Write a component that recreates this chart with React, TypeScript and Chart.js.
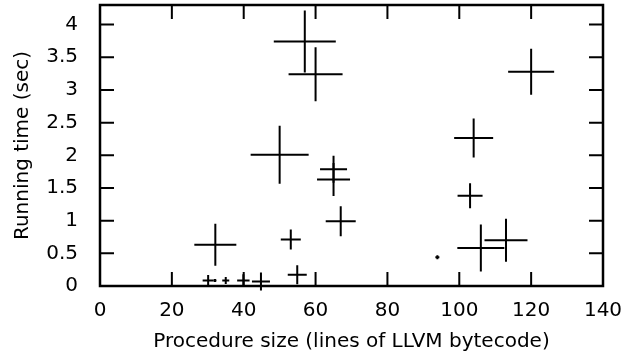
import React, { useEffect, useRef } from "react";
import { Chart, registerables } from "chart.js";

Chart.register(...registerables);

// Procedure size (lines of LLVM bytecode)
const procSize = [57, 60, 50, 120, 104, 65, 65, 67, 32.1, 53.1, 54.9, 30.1, 32, 35, 39.9, 44.8, 93.9, 103, 106, 113];
// Running time (sec)
const runTime = [3.74, 3.24, 2.01, 3.28, 2.265, 1.785, 1.63, 0.99, 0.63, 0.71, 0.172, 0.084, 0.084, 0.084, 0.084, 0.069, 0.44, 1.38, 0.58, 0.7];
// third variable, shown as marker size
const weight = [31, 27, 29, 23, 19.5, 13.5, 16.5, 15, 21, 10, 9.5, 5.5, 1.5, 3.5, 6.2, 9, 2, 12.5, 23.5, 21.5];

const xTicks = [0, 20, 40, 60, 80, 100, 120, 140];
const yTicks = [0, 0.5, 1, 1.5, 2, 2.5, 3, 3.5, 4];
const xTitle = "Procedure size (lines of LLVM bytecode)";
const yTitle = "Running time (sec)";

const FONT = "'DejaVu Sans', 'Liberation Sans', Arial, sans-serif";

const framePlugin = {
  id: "gnuframe",
  afterDraw(chart: any) {
    const { ctx, chartArea, scales } = chart;
    const { left, right, top, bottom } = chartArea;
    const x = scales.x;
    const y = scales.y;
    const TL = 14;
    ctx.save();
    ctx.strokeStyle = "#000";
    ctx.lineWidth = 2;
    ctx.beginPath();
    x.ticks.forEach((t: any) => {
      if (t.value <= x.min || t.value >= x.max) return;
      const px = x.getPixelForValue(t.value);
      ctx.moveTo(px, bottom);
      ctx.lineTo(px, bottom - TL);
      ctx.moveTo(px, top);
      ctx.lineTo(px, top + TL);
    });
    y.ticks.forEach((t: any) => {
      if (t.value <= y.min || t.value >= y.max) return;
      const py = y.getPixelForValue(t.value);
      ctx.moveTo(left, py);
      ctx.lineTo(left + TL, py);
      ctx.moveTo(right, py);
      ctx.lineTo(right - TL, py);
    });
    ctx.stroke();
    ctx.lineWidth = 2.5;
    ctx.strokeRect(left, top, right - left, bottom - top);
    ctx.restore();
  },
};

export default function App() {
  const ref = useRef<HTMLCanvasElement | null>(null);

  useEffect(() => {
    document.body.style.margin = "0";
    const canvas = ref.current;
    if (!canvas) return;
    const data = procSize.map((v, i) => ({ x: v, y: runTime[i], r: weight[i] }));
    const chart = new Chart(canvas, {
      type: "bubble",
      data: {
        datasets: [
          {
            data,
            pointStyle: "cross",
            borderColor: "#000",
            backgroundColor: "#000",
            borderWidth: 2,
            hoverBorderWidth: 2,
            hoverRadius: 0,
            clip: false,
          } as any,
        ],
      },
      options: {
        animation: false,
        responsive: false,
        events: [],
        layout: { autoPadding: false, padding: { left: 0, right: 32, top: 5, bottom: 0 } },
        plugins: {
          legend: { display: false },
          tooltip: { enabled: false },
        },
        scales: {
          x: {
            type: "linear",
            min: 0,
            max: 140,
            afterBuildTicks: (s: any) => {
              s.ticks = xTicks.map((v) => ({ value: v }));
            },
            afterFit: (s: any) => {
              s.height = 67;
              s.paddingLeft = 0;
              s.paddingRight = 0;
            },
            grid: { display: false },
            border: { display: false },
            ticks: {
              color: "#000",
              font: { family: FONT, size: 20 },
              padding: 5,
              maxRotation: 0,
              callback: (v: any) => String(v),
            },
            title: {
              display: true,
              text: xTitle,
              color: "#000",
              font: { family: FONT, size: 20 },
              padding: { top: 0, bottom: -1 },
            },
          },
          y: {
            type: "linear",
            min: 0,
            max: 4.3,
            afterBuildTicks: (s: any) => {
              s.ticks = yTicks.map((v) => ({ value: v }));
            },
            afterFit: (s: any) => {
              s.width = 100;
              s.paddingTop = 0;
              s.paddingBottom = 0;
            },
            grid: { display: false },
            border: { display: false },
            ticks: {
              color: "#000",
              font: { family: FONT, size: 20 },
              padding: 14,
              callback: (v: any) => String(v),
            },
            title: {
              display: true,
              text: yTitle,
              color: "#000",
              font: { family: FONT, size: 20 },
              padding: { top: 11, bottom: 0 },
            },
          },
        },
      },
      plugins: [framePlugin],
    });
    return () => chart.destroy();
  }, []);

  return (
    <div style={{ width: 635, height: 353 }}>
      <canvas ref={ref} width={635} height={353} style={{ display: "block" }} />
    </div>
  );
}
